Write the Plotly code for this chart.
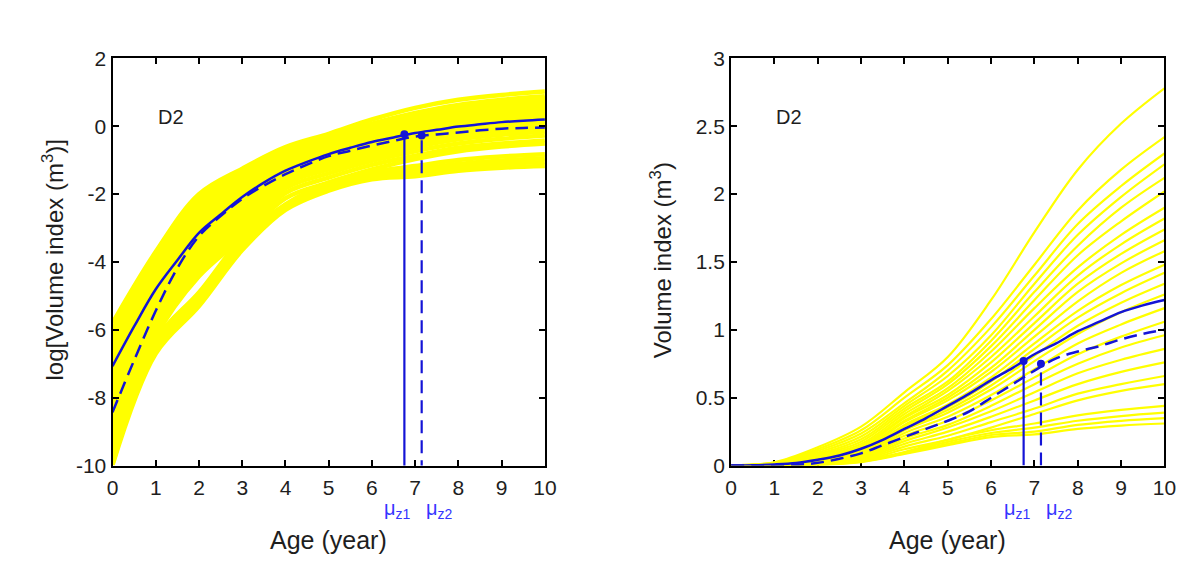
import math
import plotly.graph_objects as go

# ---------------- data (volume index, m^3) ----------------
AGE = [0, 1, 2, 3, 4, 5, 6, 7, 8, 9, 10]

TREE_01 = [0.00303, 0.0247, 0.135, 0.287, 0.54, 0.80, 1.22, 1.72, 2.18, 2.52, 2.78]
TREE_02 = [0.00250, 0.0219, 0.121, 0.260, 0.50, 0.74, 1.08, 1.48, 1.88, 2.18, 2.42]
TREE_03 = [0.00207, 0.0195, 0.108, 0.236, 0.46, 0.70, 1.02, 1.40, 1.78, 2.06, 2.30]
TREE_04 = [0.00171, 0.0172, 0.096, 0.214, 0.44, 0.66, 0.96, 1.34, 1.70, 1.98, 2.22]
TREE_05 = [0.00141, 0.0153, 0.085, 0.194, 0.42, 0.62, 0.92, 1.28, 1.62, 1.90, 2.12]
TREE_06 = [0.00117, 0.0136, 0.077, 0.176, 0.40, 0.60, 0.88, 1.22, 1.55, 1.80, 2.02]
TREE_07 = [0.00097, 0.0122, 0.068, 0.159, 0.38, 0.57, 0.84, 1.16, 1.46, 1.70, 1.90]
TREE_08 = [0.00080, 0.0108, 0.061, 0.145, 0.36, 0.55, 0.80, 1.10, 1.40, 1.63, 1.82]
TREE_09 = [0.00066, 0.0096, 0.054, 0.131, 0.35, 0.52, 0.76, 1.05, 1.34, 1.56, 1.74]
TREE_10 = [0.00054, 0.0085, 0.048, 0.119, 0.33, 0.50, 0.72, 1.00, 1.28, 1.49, 1.66]
TREE_11 = [0.00045, 0.0075, 0.043, 0.108, 0.32, 0.48, 0.69, 0.95, 1.21, 1.42, 1.58]
TREE_12 = [0.00037, 0.0067, 0.038, 0.098, 0.30, 0.45, 0.65, 0.90, 1.14, 1.33, 1.48]
TREE_13 = [0.00031, 0.0059, 0.034, 0.089, 0.29, 0.43, 0.62, 0.86, 1.09, 1.27, 1.42]
TREE_14 = [0.00025, 0.0052, 0.030, 0.080, 0.27, 0.41, 0.59, 0.81, 1.03, 1.20, 1.34]
TREE_15 = [0.00021, 0.0047, 0.027, 0.073, 0.26, 0.39, 0.56, 0.77, 0.97, 1.13, 1.26]
TREE_16 = [0.00017, 0.0041, 0.024, 0.067, 0.24, 0.36, 0.52, 0.71, 0.90, 1.04, 1.16]
TREE_17 = [0.00014, 0.0037, 0.022, 0.060, 0.22, 0.33, 0.48, 0.65, 0.82, 0.95, 1.06]
TREE_18 = [0.00012, 0.0032, 0.019, 0.054, 0.20, 0.30, 0.44, 0.60, 0.75, 0.87, 0.96]
TREE_19 = [0.000098, 0.0029, 0.017, 0.049, 0.18, 0.28, 0.40, 0.54, 0.68, 0.78, 0.86]
TREE_20 = [0.000081, 0.0026, 0.015, 0.045, 0.16, 0.25, 0.36, 0.48, 0.60, 0.69, 0.76]
TREE_21 = [0.000067, 0.0023, 0.014, 0.041, 0.14, 0.22, 0.32, 0.42, 0.53, 0.60, 0.66]
TREE_22 = [0.000056, 0.0020, 0.012, 0.037, 0.12, 0.19, 0.28, 0.38, 0.48, 0.55, 0.60]
TREE_23 = [0.0000613, 0.00184, 0.00745, 0.0369, 0.100, 0.190, 0.260, 0.31, 0.37, 0.410, 0.44]
TREE_24 = [0.0000527, 0.00158, 0.00641, 0.0327, 0.095, 0.175, 0.240, 0.28, 0.33, 0.365, 0.39]
TREE_25 = [0.0000477, 0.00143, 0.00563, 0.0293, 0.090, 0.160, 0.225, 0.25, 0.30, 0.330, 0.35]
TREE_26 = [0.0000460, 0.00123, 0.00499, 0.0260, 0.085, 0.150, 0.210, 0.23, 0.27, 0.295, 0.31]

MEAN_AGE = [0, 0.5, 1, 1.5, 2, 2.5, 3, 3.5, 4, 4.5, 5, 5.5, 6, 6.5, 7, 7.5, 8, 8.5, 9, 9.5, 10]
MEAN_Z1 = [0.00085, 0.00274, 0.0082, 0.0193, 0.0433, 0.0743, 0.124, 0.19, 0.27, 0.35, 0.44,
           0.53, 0.63, 0.72, 0.82, 0.90, 0.99, 1.06, 1.13, 1.18, 1.22]
MEAN_Z2_LOGPANEL = [0.000218, 0.00101, 0.00434, 0.0153, 0.0392, 0.0707, 0.118, 0.174, 0.244, 0.323, 0.415,
                    0.487, 0.566, 0.65, 0.74, 0.787, 0.835, 0.887, 0.932, 0.951, 0.961]
MEAN_Z2_LINPANEL = [0, 0, 0, 0.005, 0.02, 0.05, 0.09, 0.15, 0.21, 0.27, 0.33,
                    0.40, 0.50, 0.60, 0.70, 0.79, 0.84, 0.88, 0.93, 0.97, 1.0]

MU_AGE = [6.75, 7.15]
MU_LABELS = ["\u03bc<sub>z1</sub>", "\u03bc<sub>z2</sub>"]
MU_LABEL_POS = [6.6, 7.57]
MU_VALUE_LOGPANEL = [0.79, 0.76]
MU_VALUE_LINPANEL = [0.77, 0.75]

LOG_TICKS = [-10, -8, -6, -4, -2, 0, 2]
LIN_TICKS = [0, 0.5, 1, 1.5, 2, 2.5, 3]
LIN_TICK_TEXT = ["0", "0.5", "1", "1.5", "2", "2.5", "3"]
AGE_TICKS = list(range(0, 11))

TREES = [TREE_01, TREE_02, TREE_03, TREE_04, TREE_05, TREE_06, TREE_07, TREE_08, TREE_09,
         TREE_10, TREE_11, TREE_12, TREE_13, TREE_14, TREE_15, TREE_16, TREE_17, TREE_18,
         TREE_19, TREE_20, TREE_21, TREE_22, TREE_23, TREE_24, TREE_25, TREE_26]

# ---------------- style ----------------
YELLOW = "#ffff00"
BLUE = "#1414d6"
LABEL_BLUE = "#3535ff"
TXT = "#1e1e1e"
FONT = "Liberation Sans, Arial, sans-serif"
DASH = "13px,7px"

fig = go.Figure()

for t in TREES:
    fig.add_trace(go.Scatter(x=AGE, y=t, mode="lines", line=dict(color=YELLOW, width=4.5, shape="spline"),
                             xaxis="x", yaxis="y", showlegend=False, hoverinfo="skip"))
    fig.add_trace(go.Scatter(x=AGE, y=t, mode="lines", line=dict(color=YELLOW, width=2.2, shape="spline"),
                             xaxis="x2", yaxis="y2", showlegend=False, hoverinfo="skip"))

# mean curves
fig.add_trace(go.Scatter(x=MEAN_AGE, y=MEAN_Z1, mode="lines", line=dict(color=BLUE, width=2.5, shape="spline"),
                         xaxis="x", yaxis="y", showlegend=False))
fig.add_trace(go.Scatter(x=MEAN_AGE, y=MEAN_Z2_LOGPANEL, mode="lines",
                         line=dict(color=BLUE, width=2.5, dash=DASH, shape="spline"),
                         xaxis="x", yaxis="y", showlegend=False))
fig.add_trace(go.Scatter(x=MEAN_AGE, y=MEAN_Z1, mode="lines", line=dict(color=BLUE, width=2.5, shape="spline"),
                         xaxis="x2", yaxis="y2", showlegend=False))
fig.add_trace(go.Scatter(x=MEAN_AGE, y=MEAN_Z2_LINPANEL, mode="lines",
                         line=dict(color=BLUE, width=2.5, dash=DASH, shape="spline"),
                         xaxis="x2", yaxis="y2", showlegend=False))

# vertical mu lines + markers
for xa, ya, vals, floor in [("x", "y", MU_VALUE_LOGPANEL, 1e-7), ("x2", "y2", MU_VALUE_LINPANEL, 0)]:
    for k in range(2):
        fig.add_trace(go.Scatter(x=[MU_AGE[k], MU_AGE[k]], y=[floor, vals[k]], mode="lines",
                                 line=dict(color=BLUE, width=2.2, dash=None if k == 0 else DASH),
                                 xaxis=xa, yaxis=ya, showlegend=False))
    fig.add_trace(go.Scatter(x=MU_AGE, y=vals, mode="markers", marker=dict(color=BLUE, size=8),
                             xaxis=xa, yaxis=ya, showlegend=False))

axis_common = dict(showline=True, linecolor="black", linewidth=2, mirror="ticks", ticks="inside",
                   ticklen=6, tickwidth=1.5, tickcolor="black", showgrid=False, zeroline=False,
                   tickfont=dict(family=FONT, size=21, color=TXT))

H = 579
yd = [(H - 464) / H, (H - 40) / H]

fig.update_layout(
    width=1200, height=H,
    margin=dict(l=0, r=0, t=0, b=0),
    paper_bgcolor="white", plot_bgcolor="white",
    showlegend=False,
    xaxis=dict(domain=[100 / 1200, 539 / 1200], range=[0, 10], tickvals=AGE_TICKS, anchor="y",
               ticklabelstandoff=2, **axis_common),
    yaxis=dict(domain=yd, type="log", range=[LOG_TICKS[0] / math.log(10), LOG_TICKS[-1] / math.log(10)],
               tickvals=[math.exp(v) for v in LOG_TICKS], ticktext=[str(v) for v in LOG_TICKS],
               anchor="x", **axis_common),
    xaxis2=dict(domain=[728 / 1200, 1168 / 1200], range=[0, 10], tickvals=AGE_TICKS, anchor="y2",
                layer="below traces", ticklabelstandoff=2, **axis_common),
    yaxis2=dict(domain=yd, range=[0, 3], tickvals=LIN_TICKS, ticktext=LIN_TICK_TEXT,
                anchor="x2", **axis_common),
)

ann = []
for xr, yr in [("x domain", "y domain"), ("x2 domain", "y2 domain")]:
    ann.append(dict(text="D2", xref=xr, yref=yr, x=0.1, y=0.855, xanchor="left", yanchor="middle",
                    showarrow=False, font=dict(family=FONT, size=20, color=TXT)))
for xr in ["x", "x2"]:
    for k in range(2):
        ann.append(dict(text=MU_LABELS[k], xref=xr, yref="paper", x=MU_LABEL_POS[k], y=(H - 510) / H,
                        xanchor="center", yanchor="middle", showarrow=False,
                        font=dict(family=FONT, size=20, color=LABEL_BLUE)))
# axis titles
for cx in [(100 + 539) / 2, (728 + 1168) / 2]:
    ann.append(dict(text="Age (year)", xref="paper", yref="paper", x=cx / 1200, y=(H - 542) / H,
                    xanchor="center", yanchor="middle", showarrow=False,
                    font=dict(family=FONT, size=25, color=TXT)))
ann.append(dict(text="log[Volume index (m<sup>3</sup>)]", xref="paper", yref="paper", x=40 / 1200,
                y=(H - 250) / H, xanchor="center", yanchor="middle", textangle=-90, showarrow=False,
                font=dict(family=FONT, size=24, color=TXT)))
ann.append(dict(text="Volume index (m<sup>3</sup>)", xref="paper", yref="paper", x=657 / 1200,
                y=(H - 250) / H, xanchor="center", yanchor="middle", textangle=-90, showarrow=False,
                font=dict(family=FONT, size=24, color=TXT)))
fig.update_layout(annotations=ann)

fig.write_html("out.html")
